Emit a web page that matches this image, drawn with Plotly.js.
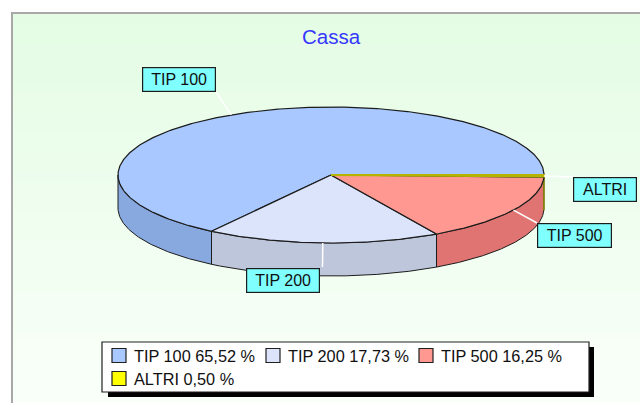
<!DOCTYPE html>
<html><head><meta charset="utf-8">
<script src="https://cdn.plot.ly/plotly-3.0.1.min.js"></script>
<style>html,body{margin:0;padding:0;background:#fff}#chart{width:640px;height:403px}</style>
</head><body><div id="chart"></div>
<script>
// ---- data ----
const chartTitle = 'Cassa';
const categories = ['TIP 100', 'TIP 200', 'TIP 500', 'ALTRI'];
const percentages = [65.52, 17.73, 16.25, 0.50];
const topColors = ['#a8c8ff', '#dce4fc', '#ff9890', '#ffff00'];
const sideColors = ['#88a8e0', '#bec6dc', '#e07472', '#c8c800'];

// ---- layout geometry (pixels) ----
const CX = 331, CY = 175, RX = 213, RY = 68, DEPTH = 33;
const labelCenters = [[179, 79.5], [283, 280], [574.5, 235], [605, 189.5]];
const labelWidths = [72, 72, 73, 62];
const leaderEnds = [[216, 92], [322.5, 267], [537, 223], [573, 177]];
const legMarkerX = [112, 266, 419, 112];
const legRowY = [355.5, 355.5, 355.5, 378.5];

function pt(deg, dy) {
  const r = deg * Math.PI / 180;
  return [CX + RX * Math.cos(r), CY - RY * Math.sin(r) + (dy || 0)];
}
function arc(a, b, dy) {
  const n = Math.max(2, Math.ceil(Math.abs(b - a) / 0.5));
  const out = [];
  for (let i = 0; i <= n; i++) out.push(pt(a + (b - a) * i / n, dy));
  return out;
}

// cumulative angles
const bounds = [];
let acc = 0;
percentages.forEach(p => { const a = acc * 3.6; acc += p; bounds.push([a, acc * 3.6]); });

const traces = [];
const edge = '#1c1c1c';
// side walls (front half only)
bounds.forEach(([a, b], i) => {
  const lo = Math.max(a, 180), hi = Math.min(b, 360);
  if (hi <= lo) return;
  const pts = arc(lo, hi, 0).concat(arc(hi, lo, DEPTH));
  pts.push(pts[0]);
  traces.push({
    type: 'scatter', mode: 'lines', fill: 'toself', fillcolor: sideColors[i],
    x: pts.map(p => p[0]), y: pts.map(p => p[1]),
    line: { color: i === 3 ? '#8a8a00' : edge, width: 1 }, hoverinfo: 'skip', showlegend: false
  });
});
// top wedges
bounds.forEach(([a, b], i) => {
  const pts = [[CX, CY]].concat(arc(a, b, 0));
  pts.push([CX, CY]);
  traces.push({
    type: 'scatter', mode: 'lines', fill: 'toself', fillcolor: topColors[i],
    x: pts.map(p => p[0]), y: pts.map(p => p[1]),
    line: { color: i === 3 ? '#b4b400' : edge, width: i === 3 ? 2 : 1.2 }, hoverinfo: 'skip', showlegend: false,
    name: categories[i]
  });
});
// leader lines from slice mid-angle on the rim to the labels
bounds.forEach(([a, b], i) => {
  const m = pt((a + b) / 2, 0);
  traces.push({
    type: 'scatter', mode: 'lines', x: [m[0], leaderEnds[i][0]], y: [m[1], leaderEnds[i][1]],
    line: { color: '#ffffff', width: 1.5 }, hoverinfo: 'skip', showlegend: false
  });
});

const shapes = [];
// background gradient inside frame
const N = 40, frameTop = 13, frameBot = 410;
const c0 = [228, 252, 228], c1 = [250, 255, 250];
for (let i = 0; i < N; i++) {
  const t = i / (N - 1);
  const c = c0.map((v, k) => Math.round(v + (c1[k] - v) * t));
  shapes.push({ type: 'rect', layer: 'below', xref: 'x', yref: 'y',
    x0: 12, x1: 660, y0: frameTop + (frameBot - frameTop) * i / N, y1: frameTop + (frameBot - frameTop) * (i + 1) / N + 0.5,
    fillcolor: `rgb(${c[0]},${c[1]},${c[2]})`, line: { width: 0 } });
}
shapes.push({ type: 'rect', layer: 'below', x0: 12, x1: 660, y0: 13, y1: 420,
  line: { color: '#a8a8a8', width: 2 }, fillcolor: 'rgba(0,0,0,0)' });
// legend box with shadow
shapes.push({ type: 'rect', layer: 'below', x0: 108, x1: 594, y0: 347, y1: 397,
  fillcolor: '#000000', line: { width: 0 } });
shapes.push({ type: 'rect', layer: 'below', x0: 102, x1: 589, y0: 342, y1: 392,
  fillcolor: '#ffffff', line: { color: '#202020', width: 1.2 } });
categories.forEach((c, i) => {
  shapes.push({ type: 'rect', layer: 'above', x0: legMarkerX[i], x1: legMarkerX[i] + 14,
    y0: legRowY[i] - 7, y1: legRowY[i] + 7, fillcolor: topColors[i],
    line: { color: '#202020', width: 1.2 } });
});

const annotations = [];
categories.forEach((c, i) => {
  annotations.push({ x: labelCenters[i][0], y: labelCenters[i][1], xref: 'x', yref: 'y',
    text: c, showarrow: false, bgcolor: '#80ffff', bordercolor: '#1c1c1c', borderwidth: 1.2,
    borderpad: 0, width: labelWidths[i], height: 23, align: 'center', valign: 'middle',
    font: { family: 'Liberation Sans, Arial, sans-serif', size: 16, color: '#101010' } });
  annotations.push({ x: legMarkerX[i] + 20, y: legRowY[i], xref: 'x', yref: 'y',
    xanchor: 'left', yanchor: 'middle', showarrow: false,
    text: c + ' ' + percentages[i].toFixed(2).replace('.', ',') + ' %',
    font: { family: 'Liberation Sans, Arial, sans-serif', size: 16.3, color: '#101010' } });
});

const layout = {
  width: 640, height: 403,
  margin: { l: 0, r: 0, t: 0, b: 0, pad: 0 },
  paper_bgcolor: '#ffffff', plot_bgcolor: 'rgba(0,0,0,0)',
  title: { text: chartTitle, x: 331 / 640, xanchor: 'center', y: 1 - 36.5 / 403, yanchor: 'middle',
    font: { family: 'Liberation Sans, Arial, sans-serif', size: 20.5, color: '#3636ff' } },
  xaxis: { range: [0, 640], visible: false, fixedrange: true },
  yaxis: { range: [403, 0], visible: false, fixedrange: true },
  shapes: shapes, annotations: annotations, showlegend: false
};
Plotly.newPlot('chart', traces, layout, { staticPlot: true, displayModeBar: false });
</script>
</body></html>
